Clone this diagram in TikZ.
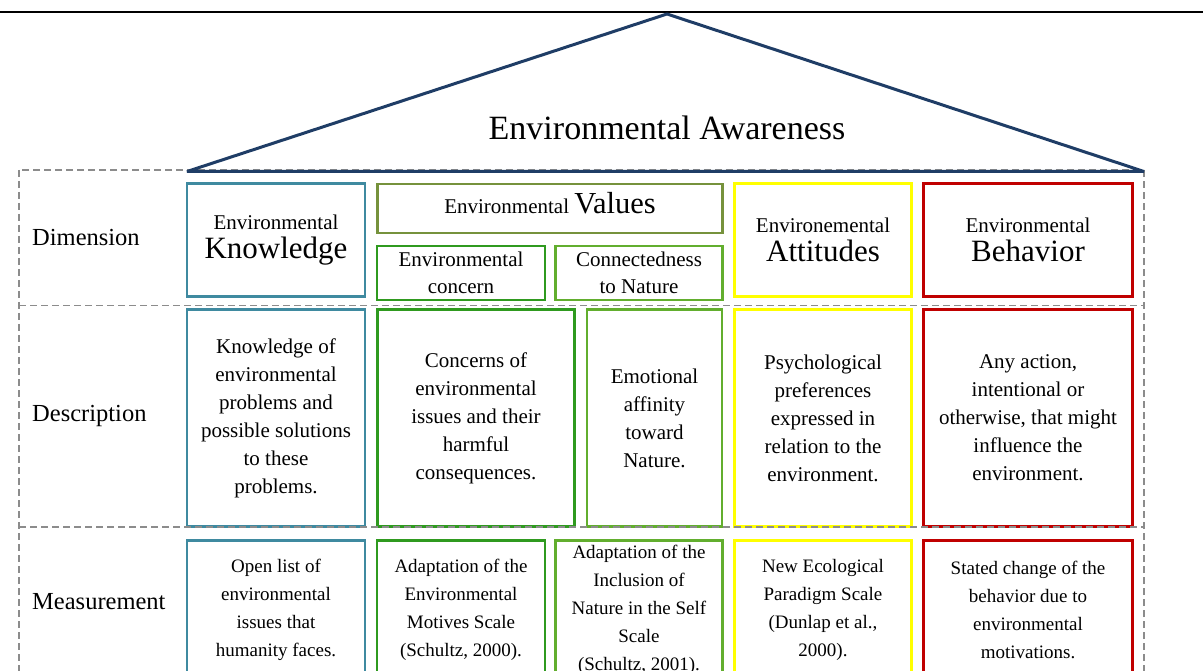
\documentclass[tikz,border=0pt]{standalone}
\usepackage{fontspec}
\setmainfont{Liberation Serif}
\definecolor{roofblue}{HTML}{1F3D66}
\definecolor{knowc}{HTML}{3F8AA0}
\definecolor{valc}{HTML}{76923C}
\definecolor{concc}{HTML}{2F9A1F}
\definecolor{connc}{HTML}{62AE2E}
\definecolor{attc}{HTML}{FFFF00}
\definecolor{behc}{HTML}{C00000}
\definecolor{gridc}{HTML}{8C8C8C}
\begin{document}
\begin{tikzpicture}[x=1pt,y=-1pt,
  cell/.style={draw, line width=2.8pt, align=center, inner sep=0pt, text=black},
  dimtxt/.style={font=\fontsize{21}{27}\selectfont},
  headtxt/.style={font=\fontsize{21}{29}\selectfont},
  desctxt/.style={font=\fontsize{21}{28}\selectfont},
  meastxt/.style={font=\fontsize{19}{28}\selectfont},
  rowlabel/.style={anchor=west, inner sep=0pt, font=\fontsize{24.5}{29}\selectfont},
  gridline/.style={draw=gridc, dash pattern=on 7pt off 4pt, line width=1.4pt},
  roof/.style={draw=roofblue, line width=3pt, line join=bevel},
  dimrow/.style={minimum height=113pt},
  descrow/.style={minimum height=217pt},
  measrow/.style={minimum height=138pt},
]
\useasboundingbox (0,0) rectangle (1203,671);

% rule across the top
\coordinate (ruleL) at (0,12);
\coordinate (ruleR) at (1203,12);
\draw[line width=2.6pt, black] (ruleL) -- (ruleR);

% roof
\coordinate (apex) at (667,14);
\coordinate (eaveL) at (187,171.5);
\coordinate (eaveR) at (1144,171.5);
\node[font=\fontsize{34}{40}\selectfont, inner sep=0pt] (title) at (667,128) {Environmental Awareness};

% row labels
\node[rowlabel] (lbldim) at (32,238) {Dimension};
\node[rowlabel] (lbldesc) at (32,416) {Description};
\node[rowlabel] (lblmeas) at (32,602) {Measurement};

% dimension row
\node[cell, dimrow, headtxt, draw=knowc, minimum width=178pt] (kdim) at (276,240)
  {Environmental\\{\fontsize{31}{29}\selectfont Knowledge}};
\node[cell, draw=valc, minimum width=345pt, minimum height=49pt, text depth=11pt] (vdim) at (550,208.5)
  {\fontsize{21}{25}\selectfont Environmental \fontsize{30.5}{34}\selectfont Values};
\node[cell, dimtxt, draw=concc, minimum width=168pt, minimum height=54pt] (cdim) at (461,273)
  {Environmental\\concern};
\node[cell, dimtxt, draw=connc, minimum width=167pt, minimum height=54pt] (ndim) at (639,273)
  {Connectedness\\to Nature};
\node[cell, dimrow, headtxt, draw=attc, minimum width=177pt] (adim) at (823,240)
  {Environemental\\{\fontsize{31}{29}\selectfont Attitudes}};
\node[cell, dimrow, headtxt, draw=behc, minimum width=209pt] (bdim) at (1028,240)
  {Environmental\\{\fontsize{31}{29}\selectfont Behavior}};

% description row
\node[cell, descrow, desctxt, draw=knowc, minimum width=178pt] (kdesc) at (276,418)
  {Knowledge of\\environmental\\problems and\\possible solutions\\to these\\problems.};
\node[cell, descrow, desctxt, draw=concc, minimum width=197pt] (cdesc) at (476,418)
  {Concerns of\\environmental\\issues and their\\harmful\\consequences.};
\node[cell, descrow, desctxt, draw=connc, minimum width=135pt] (ndesc) at (654.5,418)
  {Emotional\\affinity\\toward\\Nature.};
\node[cell, descrow, desctxt, draw=attc, minimum width=177pt] (adesc) at (823,418)
  {Psychological\\preferences\\expressed in\\relation to the\\environment.};
\node[cell, descrow, desctxt, draw=behc, minimum width=209pt] (bdesc) at (1028,418)
  {Any action,\\intentional or\\otherwise, that might\\influence the\\environment.};

% measurement row
\node[cell, measrow, meastxt, draw=knowc, minimum width=178pt] (kmeas) at (276,609.5)
  {Open list of\\environmental\\issues that\\humanity faces.};
\node[cell, measrow, meastxt, draw=concc, minimum width=168pt] (cmeas) at (461,609.5)
  {Adaptation of the\\Environmental\\Motives Scale\\(Schultz, 2000).};
\node[cell, measrow, meastxt, draw=connc, minimum width=167pt] (nmeas) at (639,609.5)
  {Adaptation of the\\Inclusion of\\Nature in the Self\\Scale\\(Schultz, 2001).};
\node[cell, measrow, meastxt, draw=attc, minimum width=177pt] (ameas) at (823,609.5)
  {New Ecological\\Paradigm Scale\\(Dunlap et al.,\\2000).};
\node[cell, measrow, meastxt, draw=behc, minimum width=209pt] (bmeas) at (1028,609.5)
  {Stated change of the\\behavior due to\\environmental\\motivations.};

% dashed frame and row separators
\coordinate (frTL) at (19,170);
\coordinate (frBR) at (1144,700);
\coordinate (sep1L) at (19,305.5);
\coordinate (sep1R) at (1144,305.5);
\coordinate (sep2L) at (19,527);
\coordinate (sep2R) at (1144,527);
\draw[gridline] (frTL) rectangle (frBR);
\draw[gridline] (sep1L) -- (sep1R);
\draw[gridline] (sep2L) -- (sep2R);

% roof outline on top of the frame
\draw[roof] (eaveL) -- (apex) -- (eaveR) -- cycle;
\end{tikzpicture}
\end{document}
